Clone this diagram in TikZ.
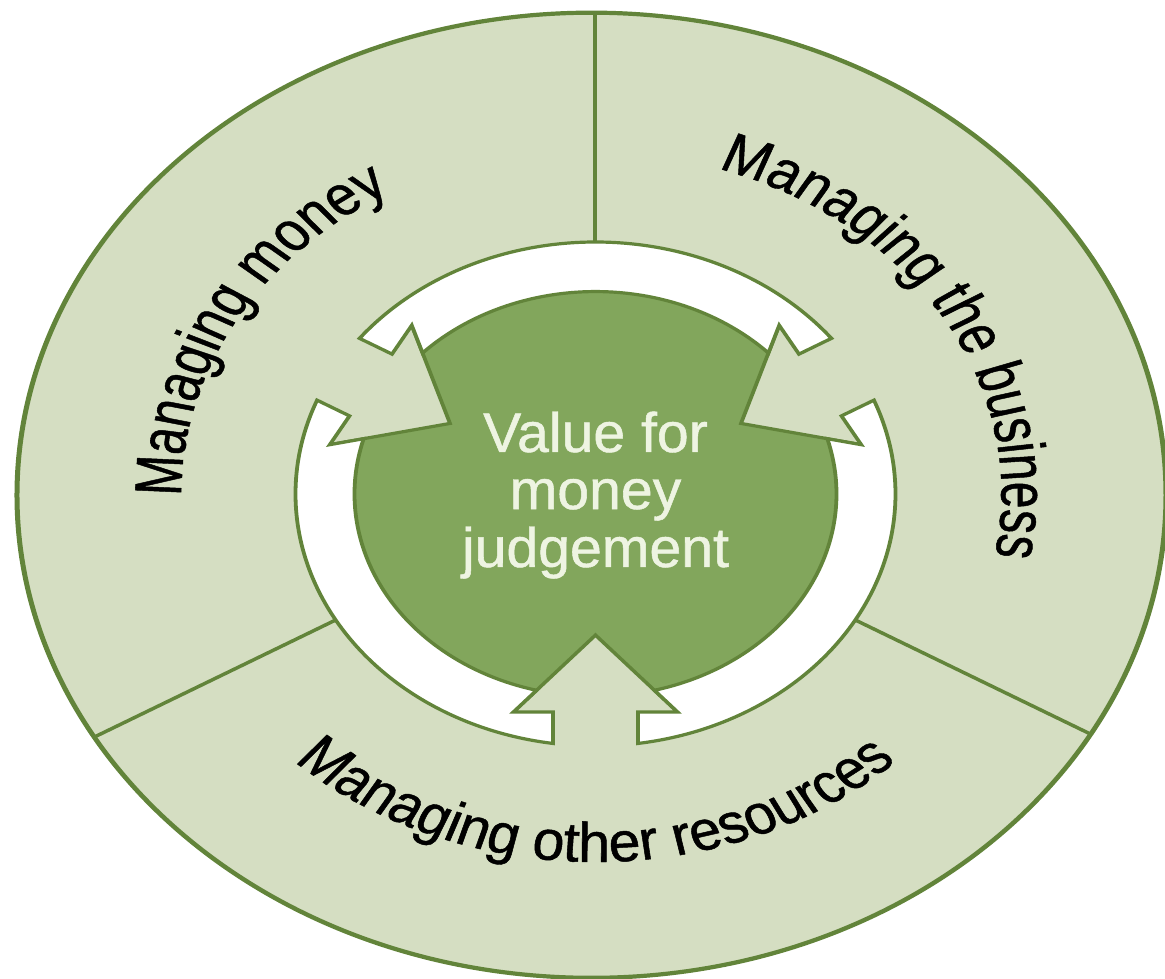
\documentclass[tikz,border=0pt]{standalone}
\usepackage{fontspec}
\setmainfont{Liberation Sans}
\newfontfamily\vfmfont[FakeStretch=0.86,FakeBold=0.8]{Liberation Sans}
\usetikzlibrary{decorations.text}
\definecolor{sage}{RGB}{213,222,194}
\definecolor{darkleaf}{RGB}{98,132,58}
\definecolor{blobgreen}{RGB}{130,166,92}
\definecolor{blobdark}{RGB}{112,148,72}
\definecolor{paletext}{RGB}{238,244,226}
\pgfdeclareradialshading{blobshade}{\pgfpoint{0bp}{0bp}}{color(0bp)=(blobgreen); color(36bp)=(blobgreen); color(50bp)=(blobdark)}
\begin{document}
\begin{tikzpicture}[x=1pt,y=1pt,
  outline/.style={draw=darkleaf, line width=3.8pt, line join=miter},
  segment/.style={outline, fill=white},
  divider/.style={draw=darkleaf, line width=4pt},
  centertext/.style={font=\fontsize{66.5}{68.5}\selectfont\vfmfont, text=paletext, inner sep=0pt, anchor=base},
  arclabel/.style={decorate, decoration={text along path, text align=center, text color=black,
      text={|\fontsize{66.5}{70}\selectfont\vfmfont|#1}}}
]
\path[use as bounding box, fill=white] (-595.5,-485) rectangle (569.5,494);
\begin{scope}[transform canvas={yscale=0.84}]
  % outer disc
  \fill[sage] (-4,-1.5) circle[radius=574.5];
  \begin{scope}
    \clip (-4,-1.5) circle[radius=574.5];
    \foreach \a in {90,210,330} \draw[divider] (\a:300) -- (\a:600);
  \end{scope}
  \draw[darkleaf, line width=5pt] (-4,-1.5) circle[radius=574.5];
  % central blob
  \shade[shading=blobshade] (0,0) circle[radius=241];
  % arrow heads
  \foreach \p in {30,150,270} {
    \fill[sage] ({\p+17.54}:272.15) -- (\p:168) -- ({\p-17.54}:272.15) -- cycle;
    \draw[outline] ({\p+17.54}:272.15) -- (\p:168) -- ({\p-17.54}:272.15);
  }
  % white ring segments
  \foreach \a in {-90,30,150} {
    \pgfmathsetmacro\b{\a+120}
    \filldraw[segment] ({\a+8.14}:300) arc[start angle=\a+8.14, end angle=\b-8.14, radius=300]
      -- ({\b-9.30}:262.96) -- ({\b-17.54}:272.15) -- ({\b-14.15}:241)
      arc[start angle=\b-14.15, end angle=\a+14.15, radius=241]
      -- ({\a+17.54}:272.15) -- ({\a+9.30}:262.96) -- cycle;
  }
  % centre text
  \node[centertext] (vfm1) at (0,50) {Value for};
  \node[centertext] (vfm2) at (0,-17.9) {money};
  \node[centertext] (vfm3) at (0,-86.9) {judgement};
  % sector labels
  \path[arclabel={Managing money}] (210:414) arc[start angle=210, end angle=90, radius=414];
  \path[arclabel={Managing the business}] (91:406) arc[start angle=91, end angle=-29, radius=406];
  \path[arclabel={Managing other resources}] (210:438) arc[start angle=210, end angle=330, radius=438];
\end{scope}
\end{tikzpicture}
\end{document}
